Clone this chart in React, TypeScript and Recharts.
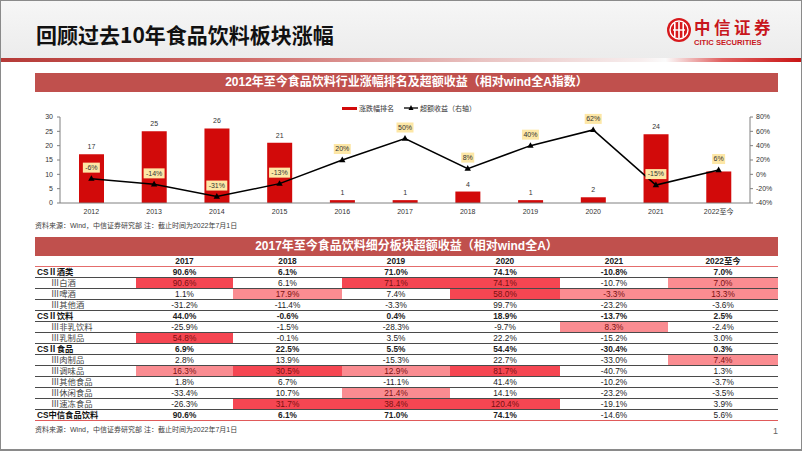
import React from "react";
import { Bar, ComposedChart, LabelList, Legend, Line, XAxis, YAxis } from "recharts";

// ---- chart data ----
const years = ["2012", "2013", "2014", "2015", "2016", "2017", "2018", "2019", "2020", "2021", "2022至今"];
const rankValues = [17, 25, 26, 21, 1, 1, 4, 1, 2, 24, 11];
const rankLabels = ["17", "25", "26", "21", "1", "1", "4", "1", "2", "24", ""];
const excessReturn = [-6, -14, -31, -13, 20, 50, 8, 40, 62, -15, 6];
const leftTicks = [0, 5, 10, 15, 20, 25, 30];
const rightTicks = [-40, -20, 0, 20, 40, 60, 80];

// ---- table data ----
const tableYears = ["2017", "2018", "2019", "2020", "2021", "2022至今"];
const sectorNames = [
    "CSⅡ酒类", "Ⅲ白酒", "Ⅲ啤酒", "Ⅲ其他酒",
    "CSⅡ饮料", "Ⅲ非乳饮料", "Ⅲ乳制品",
    "CSⅡ食品", "Ⅲ肉制品", "Ⅲ调味品", "Ⅲ其他食品", "Ⅲ休闲食品", "Ⅲ速冻食品",
    "CS中信食品饮料",
];
// 1 = industry total, 2 = CSⅡ group, 3 = CSⅢ sub sector
const sectorLevel = [2, 3, 3, 3, 2, 3, 3, 2, 3, 3, 3, 3, 3, 1];
const sectorValues = [
    [90.6, 6.1, 71.0, 74.1, -10.8, 7.0],
    [90.6, 6.1, 71.1, 74.1, -10.7, 7.0],
    [1.1, 17.9, 7.4, 58.0, -3.3, 13.3],
    [-31.2, -11.4, -3.3, 99.7, -23.2, -3.6],
    [44.0, -0.6, 0.4, 18.9, -13.7, 2.5],
    [-25.9, -1.5, -28.3, -9.7, 8.3, -2.4],
    [54.8, -0.1, 3.5, 22.2, -15.2, 3.0],
    [6.9, 22.5, 5.5, 54.4, -30.4, 0.3],
    [2.8, 13.9, -15.3, 22.7, -33.0, 7.4],
    [16.3, 30.5, 12.9, 81.7, -40.7, 1.3],
    [1.8, 6.7, -11.1, 41.4, -10.2, -3.7],
    [-33.4, 10.7, 21.4, 14.1, -23.2, -3.5],
    [-26.3, 31.7, 38.4, 120.4, -19.1, 3.9],
    [90.6, 6.1, 71.0, 74.1, -14.6, 5.6],
];
// 2 = top ranked, 1 = ranked, 0 = none
const heatLevels = [
    [0, 0, 0, 0, 0, 0],
    [2, 0, 2, 2, 0, 1],
    [0, 1, 0, 2, 1, 1],
    [0, 0, 0, 0, 0, 0],
    [0, 0, 0, 0, 0, 0],
    [0, 0, 0, 0, 1, 0],
    [2, 0, 0, 0, 0, 0],
    [0, 0, 0, 0, 0, 0],
    [0, 0, 0, 0, 0, 1],
    [1, 2, 1, 2, 0, 0],
    [0, 0, 0, 0, 0, 0],
    [0, 0, 1, 0, 0, 0],
    [0, 2, 2, 2, 0, 0],
    [0, 0, 0, 0, 0, 0],
];

const chartData = years.map((year, i) => ({
    year,
    rank: rankValues[i],
    rankLabel: rankLabels[i],
    excess: excessReturn[i],
}));

const CJK = "'Liberation Sans', 'Noto Sans CJK SC', sans-serif";
const BAR_RED = "#d20a0a";
const TITLE_RED = "#c0504d";
const colLeft = [136, 233, 342, 450, 560, 668];
const colWidth = [97, 109, 108, 110, 108, 110];
const heatColor = ["transparent", "#fa8c91", "#f54652"];

const TriangleDot = (props: any) => {
    const { cx, cy } = props;
    if (cx == null || cy == null) return null;
    return <polygon points={`${cx},${cy - 3.5} ${cx + 3.2},${cy + 2.2} ${cx - 3.2},${cy + 2.2}`} fill="#000" />;
};

const ReturnLabel = (props: any) => {
    const { x, y, value } = props;
    const text = `${value}%`;
    const w = text.length * 4 + 5;
    return (
        <g>
            <rect x={x - w / 2} y={y - 16} width={w} height={10} fill="#fde7a6" />
            <text x={x} y={y - 10.5} textAnchor="middle" dominantBaseline="middle" fontSize={7} fill="#333">
                {text}
            </text>
        </g>
    );
};

const RankLabel = (props: any) => {
    const { x, y, width, value } = props;
    if (!value) return null;
    return (
        <text x={x + width / 2} y={y - 5} textAnchor="middle" fontSize={7} fill="#333">
            {value}
        </text>
    );
};

const ChartLegend = () => (
    <div style={{ display: "flex", alignItems: "center", fontSize: 7, color: "#333", fontFamily: CJK }}>
        <span style={{ width: 15, height: 3, background: BAR_RED, marginRight: 2 }} />
        <span style={{ marginRight: 10 }}>涨跌幅排名</span>
        <svg width={14} height={8} style={{ marginRight: 2 }}>
            <line x1={0} y1={4} x2={14} y2={4} stroke="#000" strokeWidth={1.3} />
            <polygon points="7,1 9.5,6 4.5,6" fill="#000" />
        </svg>
        <span>超额收益（右轴）</span>
    </div>
);

function ReturnChart() {
    return (
        <ComposedChart
            width={743}
            height={127}
            data={chartData}
            margin={{ top: 13, right: 0, bottom: 0, left: 0 }}
            style={{ fontFamily: CJK }}
        >
            <XAxis
                dataKey="year"
                tickLine={false}
                stroke="#808080"
                tick={{ fontSize: 7, fill: "#333" }}
                tickMargin={0}
                height={19}
                interval={0}
            />
            <YAxis
                yAxisId="left"
                width={25}
                domain={[0, 30]}
                ticks={leftTicks}
                stroke="#808080"
                tickSize={3}
                tickMargin={4}
                tick={{ fontSize: 7, fill: "#333" }}
                interval={0}
            />
            <YAxis
                yAxisId="right"
                orientation="right"
                width={28}
                domain={[-40, 80]}
                ticks={rightTicks}
                stroke="#808080"
                tickSize={3}
                tickMargin={3}
                tick={{ fontSize: 7, fill: "#333" }}
                tickFormatter={(v: number) => `${v}%`}
                interval={0}
            />
            <Legend
                verticalAlign="top"
                content={<ChartLegend />}
                wrapperStyle={{ position: "absolute", top: 8, left: 307, width: 200, height: 9 }}
            />
            <Bar yAxisId="left" dataKey="rank" name="涨跌幅排名" fill={BAR_RED} barSize={25} isAnimationActive={false}>
                <LabelList dataKey="rankLabel" content={<RankLabel />} />
            </Bar>
            <Line
                yAxisId="right"
                dataKey="excess"
                name="超额收益（右轴）"
                stroke="#000"
                strokeWidth={1.5}
                dot={<TriangleDot />}
                activeDot={false}
                isAnimationActive={false}
            >
                <LabelList dataKey="excess" content={<ReturnLabel />} />
            </Line>
        </ComposedChart>
    );
}

function SectorTable() {
    const top = 256;
    const rowH = 11;
    return (
        <div style={{ position: "absolute", left: 0, top: 0, fontFamily: CJK, fontSize: 8.3, color: "#222" }}>
            {/* header row */}
            <div style={{ position: "absolute", left: 35, top, width: 743, height: rowH - 1, borderBottom: "1px solid #e46c6c" }} />
            {tableYears.map((y, c) => (
                <div
                    key={y}
                    style={{
                        position: "absolute", left: colLeft[c], top, width: colWidth[c], height: rowH,
                        lineHeight: `${rowH}px`, textAlign: "center", fontWeight: 700,
                    }}
                >
                    {y}
                </div>
            ))}
            {sectorNames.map((name, r) => {
                const rowTop = top + rowH * (r + 1);
                const level = sectorLevel[r];
                const isLast = r === sectorNames.length - 1;
                return (
                    <React.Fragment key={name}>
                        <div
                            style={{
                                position: "absolute", left: 35, top: rowTop, width: 743, height: rowH - 1,
                                borderBottom: isLast ? "1px solid #e05a5a" : "1px solid #4a4a4a",
                            }}
                        />
                        <div
                            style={{
                                position: "absolute", left: level === 3 ? 51 : 37, top: rowTop, height: rowH,
                                lineHeight: `${rowH}px`, fontWeight: level === 3 ? 400 : 700, whiteSpace: "nowrap",
                                color: level === 3 ? "#444" : "#111",
                            }}
                        >
                            {name}
                        </div>
                        {sectorValues[r].map((v, c) => {
                            const heat = heatLevels[r][c];
                            const bold = level === 2 || (level === 1 && c < 4);
                            return (
                                <div
                                    key={c}
                                    style={{
                                        position: "absolute", left: colLeft[c], top: rowTop, width: colWidth[c], height: rowH - 1,
                                        lineHeight: `${rowH}px`, textAlign: "center", background: heatColor[heat],
                                        fontWeight: bold ? 700 : 400, color: heat ? "#7a1010" : "#222",
                                    }}
                                >
                                    {v.toFixed(1)}%
                                </div>
                            );
                        })}
                    </React.Fragment>
                );
            })}
        </div>
    );
}

function Logo() {
    return (
        <svg width={26} height={26} viewBox="0 0 26 26" style={{ position: "absolute", left: 666, top: 17 }}>
            <circle cx={13} cy={13} r={12} fill="#d7191c" />
            <circle cx={13} cy={13} r={9} fill="none" stroke="#fff" strokeWidth={1.4} />
            <rect x={8} y={6} width={1.6} height={14} fill="#fff" />
            <rect x={12.2} y={5} width={1.6} height={16} fill="#fff" />
            <rect x={16.4} y={6} width={1.6} height={14} fill="#fff" />
            <rect x={7} y={12.3} width={12} height={1.4} fill="#fff" />
        </svg>
    );
}

export default function App() {
    const source = "资料来源：Wind，中信证券研究部 注：截止时间为2022年7月1日";
    return (
        <div
            style={{
                position: "absolute", left: 0, top: 0, width: 802, height: 451, overflow: "hidden",
                background: "#fff", fontFamily: CJK,
            }}
        >
            {/* page header */}
            <div style={{ position: "absolute", left: 0, top: 0, width: 802, height: 58, background: "linear-gradient(#f6f6f6, #ececec)" }} />
            <div
                style={{
                    position: "absolute", left: 0, top: 58, width: 802, height: 4,
                    background: "linear-gradient(to right, #b53a37 0%, #cf6a67 30%, #e9c3c2 60%, #f7eeee 80%, #fbfbfb 83%, #e06060 90%, #c81414 100%)",
                }}
            />
            <div style={{ position: "absolute", left: 36, top: 21, fontSize: 21, lineHeight: "26px", fontWeight: 700, color: "#111", fontFamily: "'Noto Sans CJK SC', sans-serif" }}>
                回顾过去10年食品饮料板块涨幅
            </div>
            <Logo />
            <div style={{ position: "absolute", left: 694, top: 19, fontSize: 16.5, lineHeight: "17px", fontWeight: 700, color: "#c8161d", letterSpacing: 3.5, fontFamily: "'Noto Sans CJK SC', sans-serif" }}>
                中信证券
            </div>
            <div style={{ position: "absolute", left: 694, top: 38.5, fontSize: 7.6, lineHeight: "8px", fontWeight: 700, color: "#c8161d", fontFamily: "'Liberation Sans', sans-serif" }}>
                CITIC SECURITIES
            </div>

            {/* chart block */}
            <div style={{ position: "absolute", left: 35, top: 73, width: 743, height: 19, background: TITLE_RED, color: "#fff", fontSize: 12, fontWeight: 700, lineHeight: "19px", textAlign: "center" }}>
                2012年至今食品饮料行业涨幅排名及超额收益（相对wind全A指数）
            </div>
            <div style={{ position: "absolute", left: 35, top: 95, width: 743, height: 127 }}>
                <ReturnChart />
            </div>
            <div style={{ position: "absolute", left: 35, top: 221, fontSize: 7, lineHeight: "9px", color: "#404040" }}>{source}</div>

            {/* table block */}
            <div style={{ position: "absolute", left: 35, top: 237, width: 743, height: 19, background: TITLE_RED, color: "#fff", fontSize: 12, fontWeight: 700, lineHeight: "19px", textAlign: "center" }}>
                2017年至今食品饮料细分板块超额收益（相对wind全A）
            </div>
            <SectorTable />
            <div style={{ position: "absolute", left: 35, top: 425, fontSize: 7, lineHeight: "9px", color: "#404040" }}>{source}</div>
            <div style={{ position: "absolute", left: 773, top: 426, fontSize: 9, lineHeight: "11px", color: "#666" }}>1</div>

            {/* slide frame */}
            <div style={{ position: "absolute", left: 0, top: 449, width: 802, height: 1, background: "#8a8a8a" }} />
            <div style={{ position: "absolute", left: 0, top: 0, width: 802, height: 451, boxSizing: "border-box", border: "1px solid #8a8a8a", pointerEvents: "none" }} />
        </div>
    );
}
